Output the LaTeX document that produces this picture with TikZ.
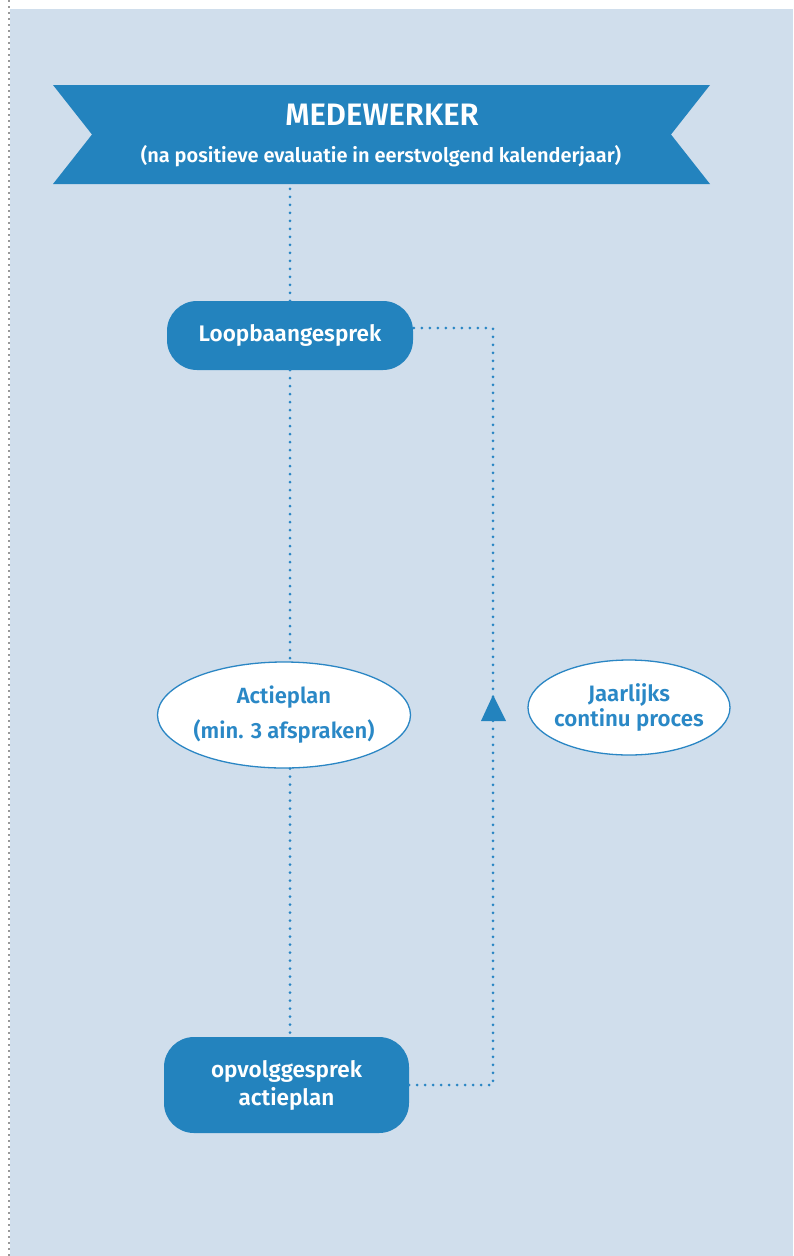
\documentclass[tikz,border=0pt]{standalone}
\usepackage{fontspec}
\setmainfont{Fira Sans}[BoldFont={Fira Sans SemiBold}]
\usetikzlibrary{shapes.geometric}
\definecolor{bgblue}{HTML}{D0DEEC}
\definecolor{mainblue}{HTML}{2383BE}
\definecolor{dotblue}{HTML}{2A86C4}
\definecolor{txtblue}{HTML}{2A88C6}
\tikzset{
  dotline/.style={dotblue, line width=3pt, line cap=round, dash pattern=on 0pt off 8pt},
  bluebox/.style={fill=mainblue, draw=none, rounded corners=30pt, text=white, align=center,
    font=\bfseries\fontsize{22.5}{28}\selectfont, inner sep=0pt},
  oval/.style={ellipse, fill=white, draw=dotblue, line width=1.3pt, text=txtblue, align=center,
    inner xsep=-30pt, inner ysep=-15pt},
}
\begin{document}
\begin{tikzpicture}[x=1pt,y=-1pt]
\useasboundingbox (0,0) rectangle (793,1256);
\fill[white] (0,0) rectangle (793,1256);
\fill[bgblue] (10,9) rectangle (793,1256);
\draw[color=black!40, line width=1.6pt, dash pattern=on 2pt off 4pt] (9,0) -- (9,1256);
% banner
\fill[mainblue] (53,85) -- (710,85) -- (671,134.5) -- (710,184) -- (53,184) -- (92,134.5) -- cycle;
\node[minimum width=657pt, minimum height=99pt, inner sep=0pt] (banner) at (381.5,134.5) {};
\node[text=white, font=\bfseries\fontsize{31}{31}\selectfont] (t1) at (382,115) {MEDEWERKER};
\node[text=white, font=\bfseries\fontsize{20}{20}\selectfont] (t2) at (381,156) {(na positieve evaluatie in eerstvolgend kalenderjaar)};
% nodes
\node[bluebox, minimum width=246pt, minimum height=69pt] (lb) at (290,335.5) {Loopbaangesprek};
\node[oval, minimum width=253pt, minimum height=106pt, font=\bfseries\fontsize{22}{35}\selectfont] (ap) at (284,715) {Actieplan\\(min. 3 afspraken)};
\node[oval, minimum width=202pt, minimum height=95pt, font=\bfseries\fontsize{22.3}{25}\selectfont] (jc) at (629,707.5) {Jaarlijks\\continu proces};
\node[bluebox, minimum width=245pt, minimum height=96pt] (ov) at (286.5,1085) {opvolggesprek\\actieplan};
% connectors
\draw[dotline] (lb.north) -- (lb.north |- banner.south);
\draw[dotline] (lb.south) -- (lb.south |- ap.north);
\draw[dotline] (lb.south |- ap.south) -- (lb.south |- ov.north);
\coordinate (c1) at (493,328);
\coordinate (c2) at (493,1085);
\draw[dotline] (c2 -| ov.east) -- (c2) -- (c1) -- (c1 -| lb.east);
\fill[mainblue] (481,721) -- (493,695) -- (506,721) -- cycle;
\end{tikzpicture}
\end{document}
